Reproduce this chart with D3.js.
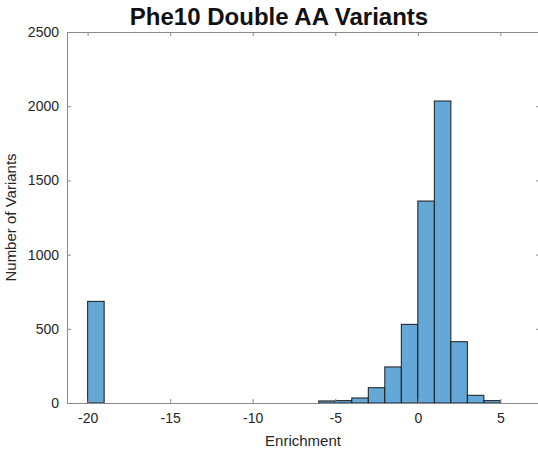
<!DOCTYPE html>
<html>
<head>
<meta charset="utf-8">
<script src="https://d3js.org/d3.v7.min.js"></script>
<style>
  body { margin: 0; background: #fff; }
  text { font-family: "Liberation Sans", Arial, sans-serif; }
</style>
</head>
<body>
<svg id="chart" width="538" height="454"></svg>
<script>
// histogram bins (left edge, width 1) and counts
var binStarts = [-20, -6, -5, -4, -3, -2, -1, 0, 1, 2, 3, 4]
var counts    = [685, 14, 16, 34, 103, 243, 530, 1361, 2035, 413, 52, 16]
var xTicks = [-20, -15, -10, -5, 0, 5]
var yTicks = [0, 500, 1000, 1500, 2000, 2500]

var binWidth = 1

const margin = {left: 67, top: 32, right: -2, bottom: 51},
    width = 538, height = 454

var svg = d3.select("#chart")

var x = d3.scaleLinear()
    .domain([-21.25, 7.4])
    .range([margin.left, width - margin.right])

var y = d3.scaleLinear()
    .domain([0, 2500])
    .range([height - margin.bottom, margin.top])

var bins = binStarts.map((b, i) => ({x0: b, x1: b + binWidth, n: counts[i]}))

// bars
svg.append("g")
    .selectAll("rect")
    .data(bins)
    .enter()
    .append("rect")
    .attr("x", d => x(d.x0))
    .attr("y", d => y(d.n))
    .attr("width", d => x(d.x1) - x(d.x0))
    .attr("height", d => y(0) - y(d.n))
    .attr("fill", "#64a8d8")
    .attr("stroke", "#1a1a1a")
    .attr("stroke-width", 1)

var axisColor = "#8a8a8a"
var textColor = "#262626"
var tickLen = 4
var plain = d => String(d)   // hyphen minus like the original

// bottom + top axes (ticks inward)
svg.append("g")
    .attr("transform", `translate(0,${y(0)})`)
    .call(d3.axisBottom(x).tickValues(xTicks).tickSizeInner(-tickLen).tickSizeOuter(0).tickPadding(10).tickFormat(plain))
svg.append("g")
    .attr("transform", `translate(0,${y(2500)})`)
    .call(d3.axisTop(x).tickValues(xTicks).tickSizeInner(-tickLen).tickSizeOuter(0).tickFormat(""))

// left + right axes
svg.append("g")
    .attr("transform", `translate(${x.range()[0]},0)`)
    .call(d3.axisLeft(y).tickValues(yTicks).tickSizeInner(-tickLen).tickSizeOuter(0).tickPadding(8).tickFormat(plain))
svg.append("g")
    .attr("transform", `translate(${x.range()[1]},0)`)
    .call(d3.axisRight(y).tickValues(yTicks).tickSizeInner(-tickLen).tickSizeOuter(0).tickFormat(""))

svg.selectAll(".domain").attr("stroke", axisColor)
svg.selectAll(".tick line").attr("stroke", axisColor)
svg.selectAll(".tick text")
    .attr("fill", textColor)
    .style("font-size", "14px")

// labels
svg.append("text")
    .attr("x", 279).attr("y", 25)
    .attr("text-anchor", "middle")
    .style("font-size", "24px")
    .style("font-weight", "bold")
    .attr("fill", "#111")
    .text("Phe10 Double AA Variants")

svg.append("text")
    .attr("x", 303).attr("y", 446)
    .attr("text-anchor", "middle")
    .style("font-size", "15px")
    .attr("fill", textColor)
    .text("Enrichment")

svg.append("text")
    .attr("transform", `translate(16,${(y(0) + y(2500)) / 2}) rotate(-90)`)
    .attr("text-anchor", "middle")
    .style("font-size", "15px")
    .attr("fill", textColor)
    .text("Number of Variants")
</script>
</body>
</html>
